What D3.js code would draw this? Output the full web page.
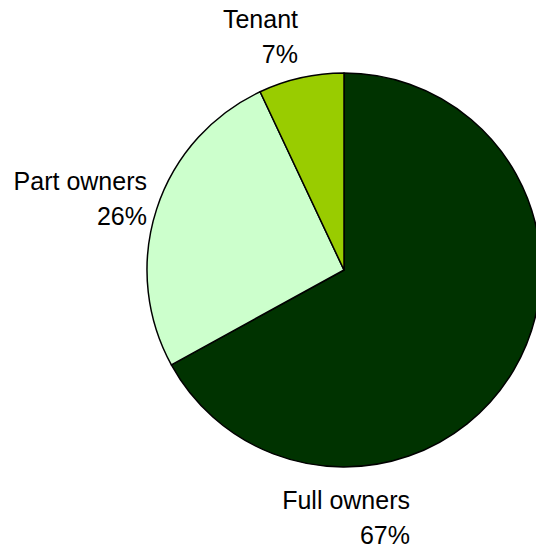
<!DOCTYPE html>
<html><head><meta charset="utf-8">
<script src="https://cdn.jsdelivr.net/npm/d3@7"></script>
<style>html,body{margin:0;padding:0;background:#fff;overflow:hidden}</style>
</head><body>
<svg id="c" width="536" height="552"></svg>
<script>
const categories = ["Full owners", "Part owners", "Tenant"];
const values = [67, 26, 7];
const percentLabels = ["67%", "26%", "7%"];
const colors = ["#003300", "#CCFFCC", "#99CC00"];

const svg = d3.select("#c");
const cx = 344, cy = 270, r = 197;
const g = svg.append("g").attr("transform", `translate(${cx},${cy})`);
const pie = d3.pie().sort(null).value(d => d)(values);
const arc = d3.arc().innerRadius(0).outerRadius(r);
g.selectAll("path").data(pie).join("path")
  .attr("d", arc)
  .attr("fill", (d, i) => colors[i])
  .attr("stroke", "#000").attr("stroke-width", 1.5).attr("stroke-linejoin", "round");

// label anchor positions (right-aligned two-line labels)
const labelPos = [
  {x: 410, y: 509},
  {x: 147, y: 190},
  {x: 298, y: 28}
];
categories.forEach((c, i) => {
  const t = svg.append("text")
    .attr("text-anchor", "end")
    .attr("font-family", "Liberation Sans, Arial, sans-serif")
    .attr("font-size", 25).attr("fill", "#000");
  t.append("tspan").attr("x", labelPos[i].x).attr("y", labelPos[i].y).text(c);
  t.append("tspan").attr("x", labelPos[i].x).attr("y", labelPos[i].y + 34.5).text(percentLabels[i]);
});
</script>
</body></html>
